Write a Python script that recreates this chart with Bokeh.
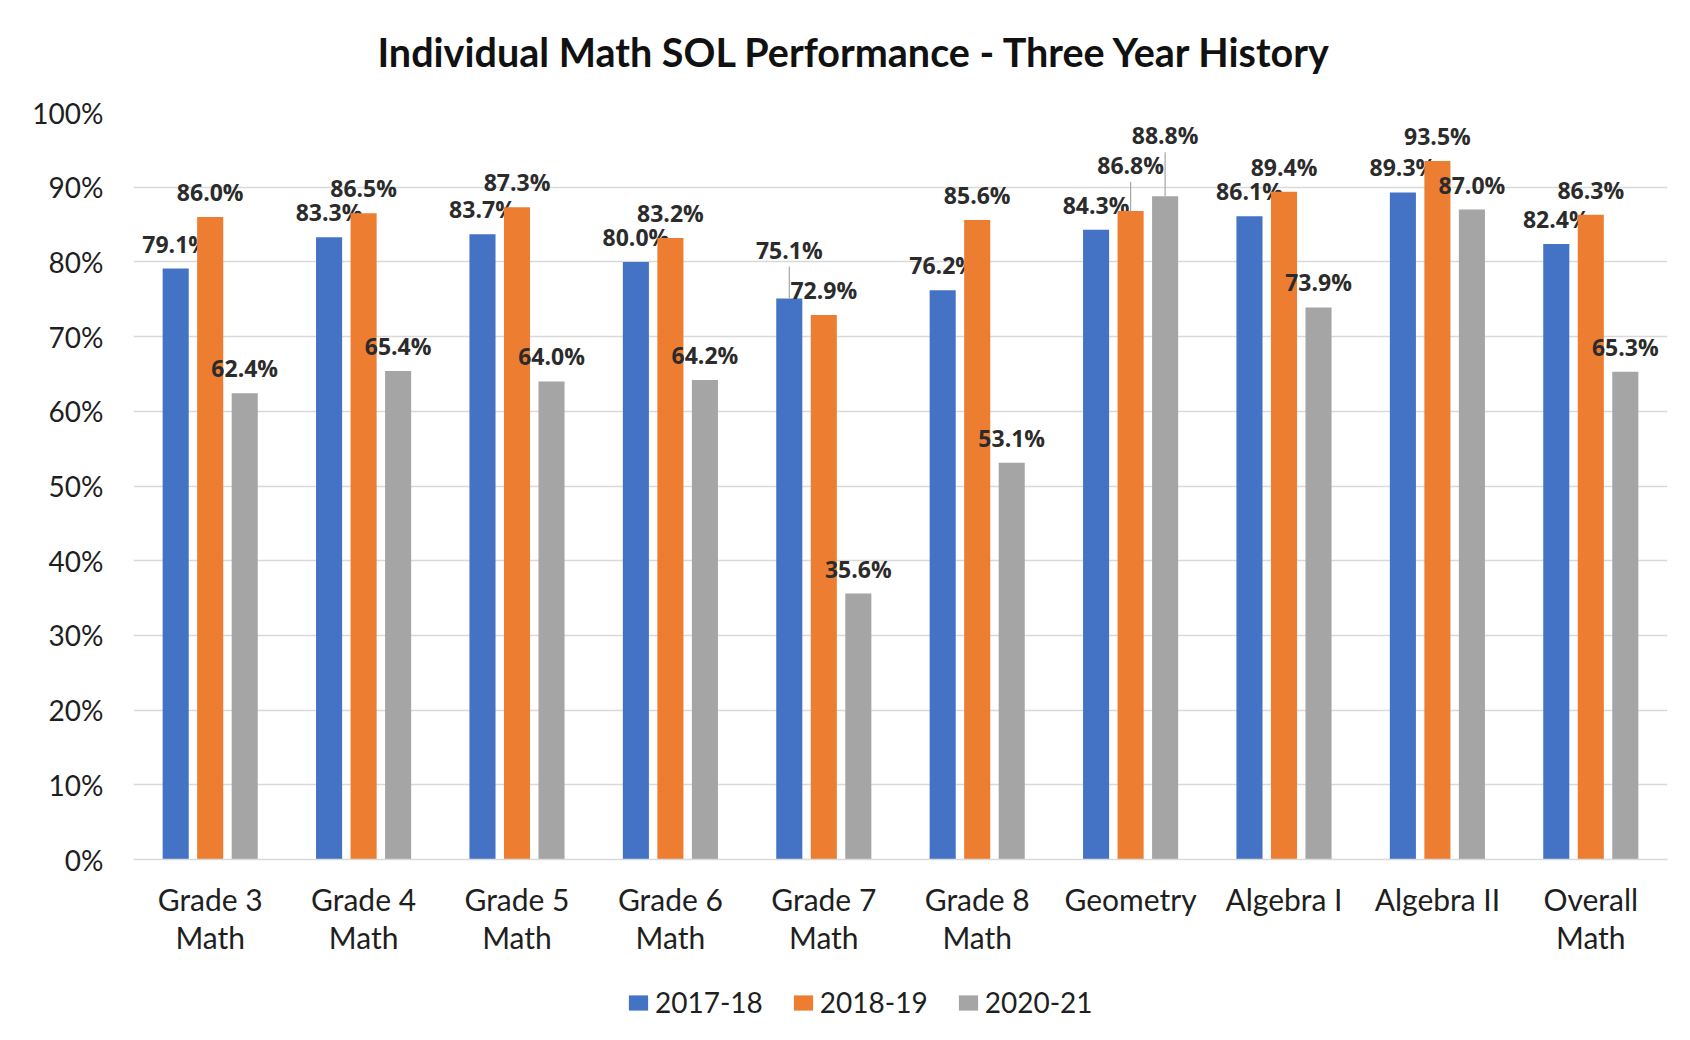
from bokeh.plotting import figure
from bokeh.layouts import column
from bokeh.models import (ColumnDataSource, Legend, LegendItem, Label, FixedTicker,
                          Range1d, FactorRange)
from bokeh.transform import dodge
from bokeh.core.properties import value
from bokeh.embed import file_html
from bokeh.resources import INLINE

# ---------------- data ----------------
categories = ["Grade 3\nMath", "Grade 4\nMath", "Grade 5\nMath", "Grade 6\nMath",
              "Grade 7\nMath", "Grade 8\nMath", "Geometry", "Algebra I",
              "Algebra II", "Overall\nMath"]
years = ["2017-18", "2018-19", "2020-21"]
pass_2017_18 = [79.1, 83.3, 83.7, 80.0, 75.1, 76.2, 84.3, 86.1, 89.3, 82.4]
pass_2018_19 = [86.0, 86.5, 87.3, 83.2, 72.9, 85.6, 86.8, 89.4, 93.5, 86.3]
pass_2020_21 = [62.4, 65.4, 64.0, 64.2, 35.6, 53.1, 88.8, 73.9, 87.0, 65.3]
y_ticks = [0, 10, 20, 30, 40, 50, 60, 70, 80, 90, 100]
title_text = "Individual Math SOL Performance - Three Year History"

# label lift above bar top (screen px); larger ones carry a leader line
lift_2017_18 = [25, 25, 25, 25, 49, 25, 25, 25, 25, 25]
lift_2018_19 = [25, 25, 25, 25, 25, 25, 46, 25, 25, 25]
lift_2020_21 = [25, 25, 25, 25, 25, 25, 61, 25, 25, 25]

colors = ["#4472C4", "#ED7D31", "#A5A5A5"]
offsets = [-0.225, 0.0, 0.225]
series = [pass_2017_18, pass_2018_19, pass_2020_21]
lifts = [lift_2017_18, lift_2018_19, lift_2020_21]

W = 1682
BL, BR = 133, 15
FW = W - BL - BR  # frame width shared by all strips


def strip(height):
    f = figure(width=W, height=height, output_backend="svg", toolbar_location=None,
               x_range=Range1d(0, FW), y_range=Range1d(0, height),
               x_axis_type=None, y_axis_type=None,
               min_border_left=BL, min_border_right=BR, min_border_top=0,
               min_border_bottom=0)
    f.outline_line_color = None
    f.grid.grid_line_color = None
    return f


# ---------------- title strip ----------------
tf = strip(90)
tf.add_layout(Label(x=722, y=39, text=title_text, text_align="center",
                    text_baseline="middle", text_font="Lato",
                    text_font_style="bold", text_font_size="39.5px",
                    text_color="#111111"))

# ---------------- main chart ----------------
p = figure(width=W, height=882, output_backend="svg", toolbar_location=None,
           x_range=FactorRange(factors=categories, range_padding=0),
           y_range=Range1d(0, 100),
           min_border_left=BL, min_border_right=BR, min_border_top=22,
           min_border_bottom=113)
p.outline_line_color = None
p.background_fill_color = "white"
p.border_fill_color = "white"

p.xgrid.grid_line_color = None
p.ygrid.ticker = FixedTicker(ticks=y_ticks)
p.ygrid.grid_line_color = "#d9d9d9"
p.ygrid.grid_line_width = 1.5

p.yaxis.ticker = FixedTicker(ticks=y_ticks)
p.yaxis.major_label_overrides = {t: f"{t}%" for t in y_ticks}
p.yaxis.axis_line_color = None
p.yaxis.major_tick_line_color = None
p.yaxis.major_tick_out = 0
p.yaxis.minor_tick_line_color = None
p.yaxis.major_label_standoff = 30
p.yaxis.major_label_text_font = "Lato"
p.yaxis.major_label_text_font_size = "28px"
p.yaxis.major_label_text_color = "#1f1f1f"

p.xaxis.axis_line_color = "#d9d9d9"
p.xaxis.axis_line_width = 1.5
p.xaxis.major_tick_line_color = None
p.xaxis.major_tick_out = 0
p.xaxis.major_label_standoff = 21
p.xaxis.major_label_text_font = "Lato"
p.xaxis.major_label_text_font_size = "30px"
p.xaxis.major_label_text_color = "#1f1f1f"
p.xaxis.major_label_text_line_height = 1.08

for name, vals, lf, col, off in zip(years, series, lifts, colors, offsets):
    src = ColumnDataSource(dict(cat=categories, val=vals,
                                lab=[f"{v:.1f}%" for v in vals],
                                yoff=[-l for l in lf]))
    xd = dodge("cat", off, range=p.x_range)
    p.vbar(x=xd, top="val", width=0.17, source=src,
           fill_color=col, line_color=None)
    lead = [i for i, l in enumerate(lf) if l > 30]
    if lead:
        lsrc = ColumnDataSource(dict(cat=[categories[i] for i in lead],
                                     val=[vals[i] for i in lead],
                                     ln=[lf[i] - 17 for i in lead]))
        p.ray(x=dodge("cat", off, range=p.x_range), y="val", length="ln",
              length_units="screen", angle=90, angle_units="deg",
              line_color="#a6a6a6", line_width=1.2, source=lsrc)
    p.text(x=xd, y="val", text="lab", y_offset="yoff", source=src,
           text_align="center", text_baseline="middle",
           text_font=value("Open Sans"), text_font_style="bold",
           text_font_size="23px", text_color="#2b2b2b")

# ---------------- legend strip ----------------
lg = strip(60)
items = []
for name, col in zip(years, colors):
    # swatch renderer: a zero-height bar kept off-screen, used only for the key
    r = lg.vbar(x=[-500], top=[0], width=1, fill_color=col, line_color=None)
    items.append(LegendItem(label=name, renderers=[r]))
legend = Legend(items=items, orientation="horizontal", location=(493, 13),
                glyph_width=24, glyph_height=19, label_standoff=5, spacing=28,
                padding=0, margin=0, border_line_color=None,
                background_fill_alpha=0, label_text_font="Lato",
                label_text_font_size="28px", label_text_color="#1f1f1f")
lg.add_layout(legend)

layout = column(tf, p, lg, spacing=0)
open("out.html", "w").write(file_html(layout, INLINE))
